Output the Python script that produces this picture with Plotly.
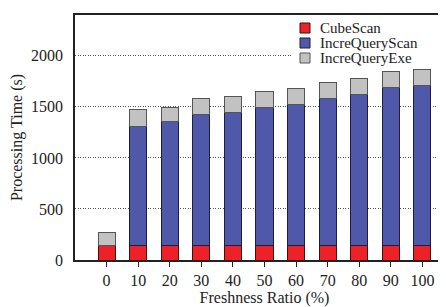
import plotly.graph_objects as go

categories = ["0", "10", "20", "30", "40", "50", "60", "70", "80", "90", "100"]
cube_scan = [145, 145, 145, 145, 145, 145, 145, 145, 145, 145, 145]
incre_query_scan = [0, 1165, 1207, 1285, 1300, 1350, 1375, 1437, 1476, 1541, 1561]
incre_query_exe = [125, 163, 146, 156, 159, 160, 163, 156, 159, 163, 162]
series_names = ["CubeScan", "IncreQueryScan", "IncreQueryExe"]
series_colors = ["#EE2028", "#5059A9", "#C2C2C2"]
edge_colors = ["#3a1010", "#1a1f40", "#555555"]

font = "Liberation Serif"

fig = go.Figure()
for vals, name, col, edge in zip([cube_scan, incre_query_scan, incre_query_exe],
                                 series_names, series_colors, edge_colors):
    fig.add_trace(go.Bar(x=categories, y=vals, name=name,
                         marker=dict(color=col, line=dict(color=edge, width=1))))

# plot area in pixels: x 67..446, y 7..252
L, R, T, B = 67, 446, 7, 252
def px(x):
    return (x - L) / (R - L)
def py(y):
    return (B - y) / (B - T)

# custom compact legend
fig.add_shape(type="rect", xref="paper", yref="paper",
              x0=px(285), x1=px(441), y0=py(57), y1=py(10),
              fillcolor="white", line=dict(width=0), layer="above")
for i, (name, col, edge) in enumerate(zip(series_names, series_colors, edge_colors)):
    cy = 20 + 15 * i
    fig.add_shape(type="rect", xref="paper", yref="paper",
                  x0=px(292), x1=px(302), y0=py(cy + 5), y1=py(cy - 5),
                  fillcolor=col, line=dict(color=edge, width=1), layer="above")
    fig.add_annotation(xref="paper", yref="paper", x=px(310), y=py(cy),
                       text=name, showarrow=False, xanchor="left", yanchor="middle",
                       font=dict(size=15, family=font, color="#222222"))

fig.update_layout(
    barmode="stack",
    bargap=0.46,
    width=446, height=307,
    margin=dict(l=L, r=446 - R, t=T, b=307 - B, autoexpand=False),
    paper_bgcolor="white", plot_bgcolor="white",
    font=dict(family=font, size=16, color="#222222"),
    showlegend=False,
)
fig.update_xaxes(
    type="category", range=[-1, 11], automargin=False,
    showline=True, linecolor="#222222", linewidth=1.5, mirror=True,
    ticks="outside", ticklen=5, tickcolor="#222222",
    showgrid=False,
    tickfont=dict(size=16, family=font),
    title=dict(text="Freshness Ratio (%)", font=dict(size=16, family=font), standoff=4),
)
fig.update_yaxes(
    range=[0, 2400], automargin=False,
    tickvals=[0, 500, 1000, 1500, 2000],
    showline=True, linecolor="#222222", linewidth=1.5, mirror=False,
    ticks="outside", ticklen=7, tickcolor="rgba(0,0,0,0)",
    showgrid=True, gridcolor="#555555", griddash="1px,1.5px", gridwidth=0.8,
    zeroline=False,
    tickfont=dict(size=16, family=font),
    title=dict(text="Processing Time (s)", font=dict(size=16, family=font), standoff=8),
)

fig.write_html("out.html")
